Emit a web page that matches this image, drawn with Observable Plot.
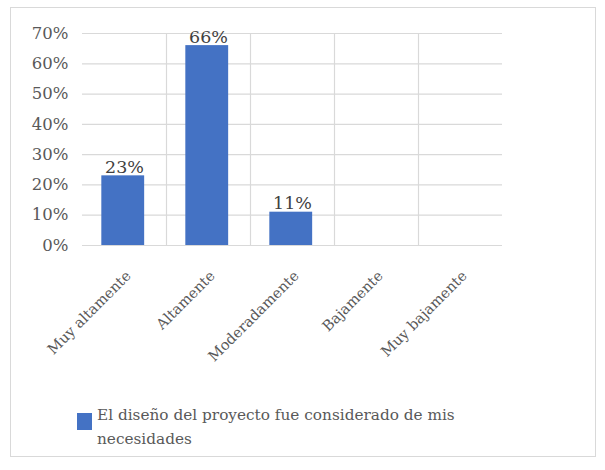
<!DOCTYPE html>
<html><head><meta charset="utf-8">
<script src="https://cdn.jsdelivr.net/npm/d3@7"></script>
<script src="https://cdn.jsdelivr.net/npm/@observablehq/plot@0.6"></script>
<style>
body{margin:0;background:#fff;font-family:"DejaVu Serif",serif;}
#frame{position:absolute;left:10px;top:7px;width:586px;height:450px;border:1px solid #d9d9d9;box-sizing:border-box;}
#chart{position:absolute;left:0;top:0;}
#legend{position:absolute;left:77px;top:403px;display:flex;align-items:flex-start;color:#595959;font-size:15.3px;line-height:24px;}
#legend .sw{width:15px;height:17px;background:#4472c4;margin-top:10px;margin-right:5px;flex:none;}
</style></head><body>
<div id="frame"></div>
<div id="chart"></div>
<div id="legend"><div class="sw"></div><div>El diseño del proyecto fue considerado de mis<br>necesidades</div></div>
<script>
const categories = ["Muy altamente","Altamente","Moderadamente","Bajamente","Muy bajamente"];
const values = [0.23, 0.66, 0.11, null, null];
const yTicks = [0,0.1,0.2,0.3,0.4,0.5,0.6,0.7];
const seriesName = "El diseño del proyecto fue considerado de mis necesidades";

const data = categories.map((c,i)=>({cat:c, v:values[i]}));
const bars = data.filter(d=>d.v!=null);
const step = (502-82)/categories.length;

const chart = Plot.plot({
  width: 605, height: 400,
  marginLeft: 82, marginRight: 103, marginTop: 33, marginBottom: 155,
  style: {fontFamily: '"DejaVu Serif",serif', background: "transparent"},
  x: {domain: categories, padding: 0, label: null},
  y: {domain: [0, 0.7], label: null},
  marks: [
    Plot.gridY(yTicks, {stroke: "#d9d9d9", strokeOpacity: 1, strokeWidth: 1.2}),
    Plot.ruleX(categories.slice(1), {x: d=>d, dx: -step/2, stroke: "#d9d9d9", strokeWidth: 1.2}),
    Plot.barY(bars, {x: "cat", y: "v", fill: "#4472c4", insetLeft: step*0.23, insetRight: step*0.26}),
    Plot.text(bars, {x: "cat", y: "v", text: d=>Math.round(d.v*100)+"%", lineAnchor: "bottom", dy: -3, fontSize: 17.5, fill: "#404040"}),
    Plot.axisY({ticks: yTicks, tickFormat: d=>Math.round(d*100)+"%", tickSize: 0, tickPadding: 14, fontSize: 16.5, fill: "#595959", label: null}),
    Plot.axisX({tickSize: 0, tickRotate: -45, tickPadding: 28, dx: 4, fontSize: 14.5, fill: "#595959", label: null})
  ]
});
document.getElementById("chart").appendChild(chart);
</script>
</body></html>
